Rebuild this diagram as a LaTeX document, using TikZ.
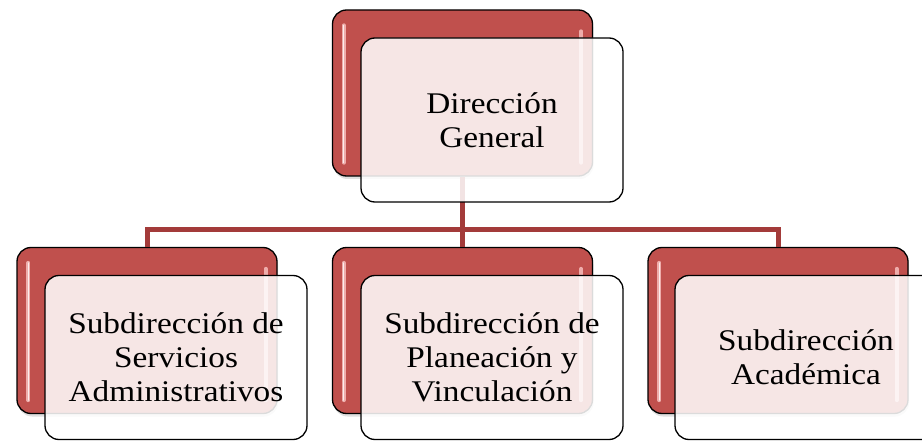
\documentclass[tikz,border=0pt]{standalone}
\usepackage{fontspec}
\setmainfont[FakeStretch=1.11]{Liberation Serif}
\usetikzlibrary{shadows}
\definecolor{boxred}{HTML}{C0504D}
\definecolor{linkred}{HTML}{A33B3A}
\definecolor{hlpink}{HTML}{F4B8B6}
\tikzset{
  redbox/.style={draw=black, line width=1.3pt, fill=boxred, rounded corners=14pt,
    minimum width=260pt, minimum height=166pt, inner sep=0pt,
    drop shadow={opacity=0.25, shadow xshift=1pt, shadow yshift=-3pt}},
  whitebox/.style={draw=black, line width=1.3pt, fill=white, fill opacity=0.86, text opacity=1,
    rounded corners=14pt, minimum width=262pt, minimum height=164pt, inner sep=0pt,
    align=center, font=\fontsize{30}{34}\selectfont},
  conn/.style={draw=linkred, line width=5pt},
  hl/.style={draw=hlpink, line width=4pt, line cap=round, opacity=0.9},
  hlc/.style={draw=white, line width=1.2pt, line cap=round, opacity=0.8}
}
\begin{document}
\begin{tikzpicture}[x=1pt,y=-1pt]
\useasboundingbox (0,0) rectangle (922,441);
\begin{scope}
\clip (0,0) rectangle (922,441);
% red back boxes
\node[redbox] (rDG) at (462.5,93) {};
\node[redbox] (rL) at (147,330.5) {};
\node[redbox] (rM) at (462.5,330.5) {};
\node[redbox] (rR) at (778,330.5) {};
% highlights
\foreach \n in {rDG,rL,rM,rR}{
  \draw[hl] ([xshift=12pt,yshift=-16pt]\n.north west) -- ([xshift=12pt,yshift=14pt]\n.south west);
  \draw[hlc] ([xshift=12pt,yshift=-16pt]\n.north west) -- ([xshift=12pt,yshift=14pt]\n.south west);
  \draw[hl] ([xshift=-12pt,yshift=-22pt]\n.north east) -- ([xshift=-12pt,yshift=14pt]\n.south east);
}
% connectors
\coordinate (j) at (462.5,230);
\draw[conn] (rDG.south) -- (rM.north);
\draw[conn] (rL.north) -- (rL.north |- j) -- (rR.north |- j) -- (rR.north);
% white front boxes
\node[whitebox] (DG) at (492,120) {Dirección\\General};
\node[whitebox] (L) at (176,357.5) {Subdirección de\\Servicios\\Administrativos};
\node[whitebox] (M) at (492,357.5) {Subdirección de\\Planeación y\\Vinculación};
\node[whitebox] (R) at (806,357.5) {Subdirección\\Académica};
\end{scope}
\end{tikzpicture}
\end{document}
